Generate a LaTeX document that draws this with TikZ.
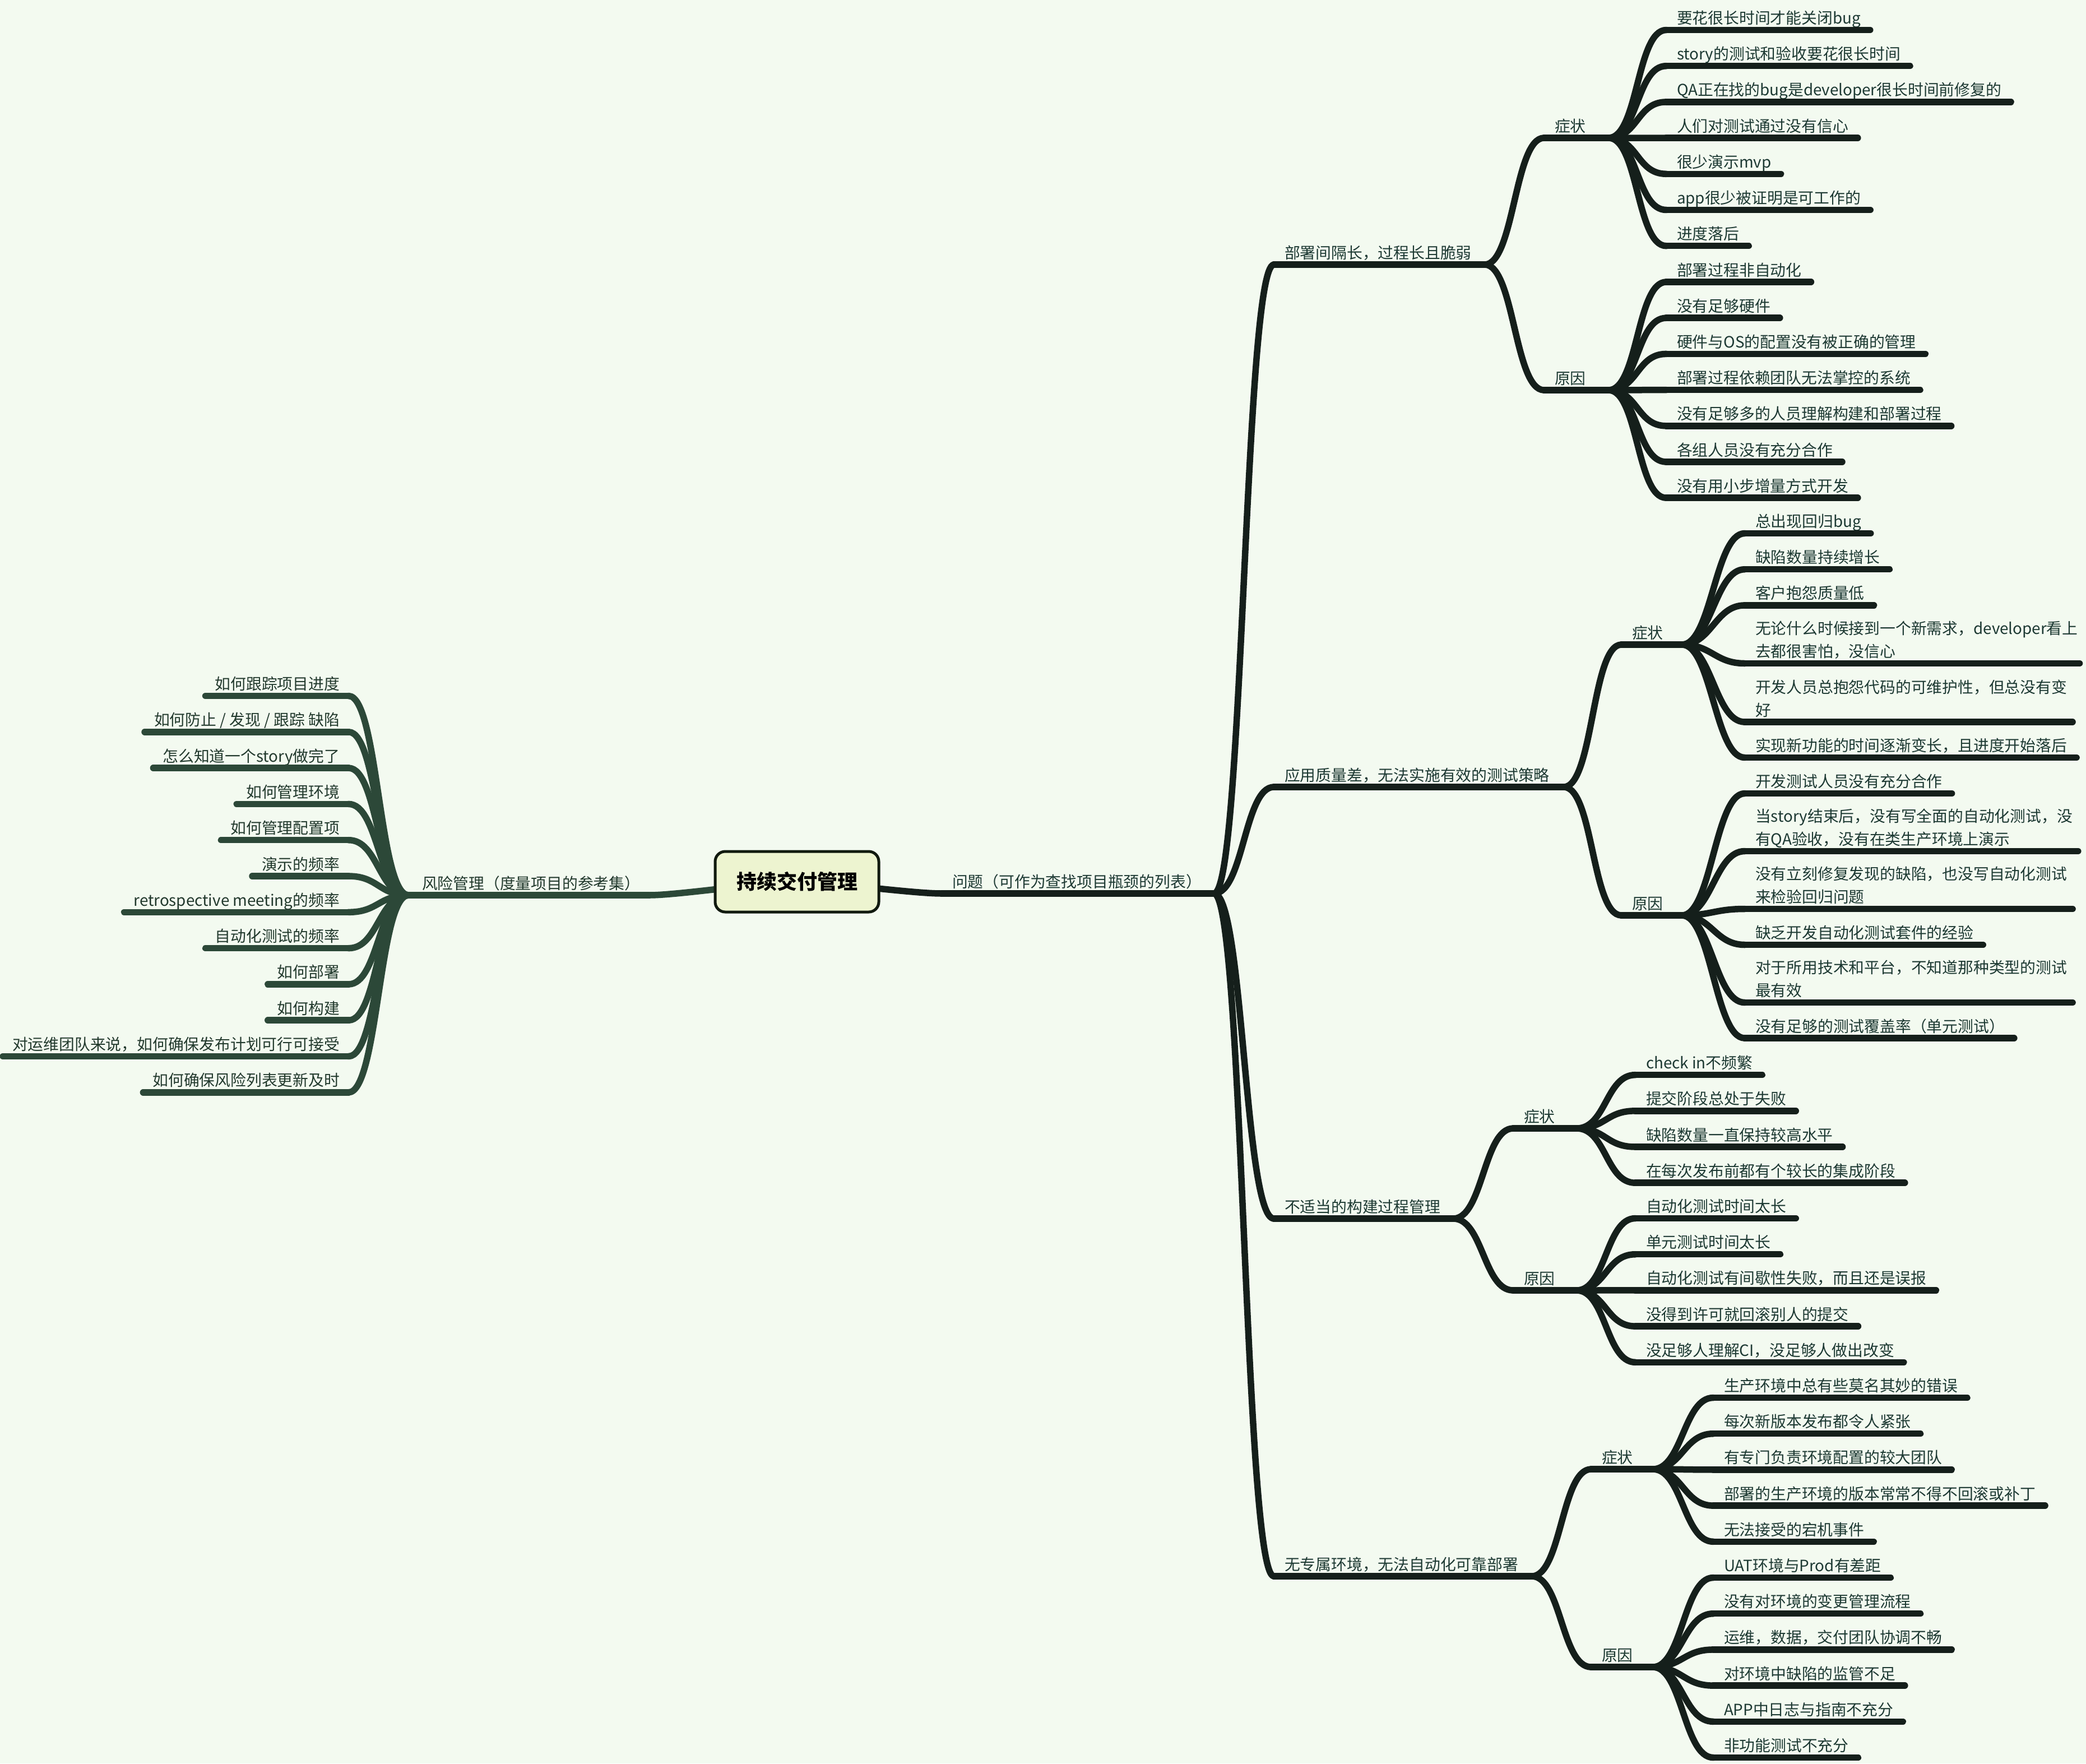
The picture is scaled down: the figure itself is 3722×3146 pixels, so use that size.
\documentclass[tikz,border=0pt]{standalone}
\usepackage{fontspec}
\setmainfont{Noto Sans CJK SC}
\usetikzlibrary{calc}
\definecolor{bgcol}{HTML}{F3FAF0}
\definecolor{boxfillcol}{HTML}{EDF4D0}
\definecolor{boxlinecol}{HTML}{111A0F}
\definecolor{linecolR}{HTML}{151F1B}
\definecolor{linecolL}{HTML}{2C4838}
\definecolor{textcolR}{HTML}{1D3933}
\definecolor{textcolL}{HTML}{22392D}
\pgfdeclarelayer{background}
\pgfsetlayers{background,main}
\tikzset{
  txtR/.style={inner sep=0pt, outer sep=0pt, text=textcolR, font=\fontsize{27.8}{41}\selectfont, align=left},
  txtL/.style={inner sep=0pt, outer sep=0pt, text=textcolL, font=\fontsize{27.8}{41}\selectfont, align=right},
  lnR/.style={draw=linecolR, line width=11.5pt, line cap=round, line join=round},
  lnL/.style={draw=linecolL, line width=11.5pt, line cap=round, line join=round},
  cR/.style={to path={.. controls ($(\tikztostart)+(53,0)$) and ($(\tikztotarget)+(-53,0)$) .. (\tikztotarget)}},
  cL/.style={to path={.. controls ($(\tikztostart)+(-53,0)$) and ($(\tikztotarget)+(53,0)$) .. (\tikztotarget)}},
  rootbox/.style={draw=boxlinecol, line width=5pt, fill=boxfillcol, rounded corners=18pt,
    minimum width=292pt, minimum height=108pt, inner sep=0pt,
    font=\fontsize{36}{40}\selectfont\bfseries, text=black},
}
% right leaf: [end pad]{name}{x start}{y}{text}
\newcommand\rleaf[5][17]{%
  \coordinate (#2-s) at (#3,#4);
  \node[txtR, anchor=base west] (#2) at ([xshift=19pt,yshift=11pt]#2-s) {#5};
  \coordinate (#2-e) at ($(#2.east |- #2-s)+(#1,0)$);
  \draw[lnR] (#2-s) -- (#2-e);
}
% right parent: {name}{x start}{y}{fork x}{text}
\newcommand\rpar[5]{%
  \coordinate (#1-s) at (#2,#3);
  \coordinate (#1-e) at (#4,#3);
  \node[txtR, anchor=base west] (#1) at ([xshift=19pt,yshift=11pt]#1-s) {#5};
  \draw[lnR] (#1-s) -- (#1-e);
}
% left leaf: {name}{x end}{y}{text}
\newcommand\lleaf[4]{%
  \coordinate (#1-e) at (#2,#3);
  \node[txtL, anchor=base east] (#1) at ([xshift=-16pt,yshift=11pt]#1-e) {#4};
  \coordinate (#1-s) at ($(#1.west |- #1-e)+(-17,0)$);
  \draw[lnL] (#1-s) -- (#1-e);
}
\begin{document}
\begin{tikzpicture}[x=1pt,y=-1pt]
\useasboundingbox (0,0) rectangle (3722,3146);
\begin{pgfonlayer}{background}
\fill[bgcol] (0,0) rectangle (3722,3146);
\end{pgfonlayer}

% root
\node[rootbox] (root) at (1422,1573) {持续交付管理};

% ---------- right main ----------
\rpar{q}{1680}{1594}{2166}{问题（可作为查找项目瓶颈的列表）}

% level 1
\rpar{A}{2273}{472}{2649}{部署间隔长，过程长且脆弱}
\rpar{B}{2273}{1404}{2790}{应用质量差，无法实施有效的测试策略}
\rpar{C}{2273}{2174}{2593}{不适当的构建过程管理}
\rpar{D}{2273}{2812}{2733}{无专属环境，无法自动化可靠部署}

% level 2
\rpar{As}{2755}{246}{2870}{症状}
\rpar{Ac}{2755}{696}{2870}{原因}
\rpar{Bs}{2893}{1150}{3001}{症状}
\rpar{Bc}{2893}{1633}{3001}{原因}
\rpar{Cs}{2700}{2013}{2813}{症状}
\rpar{Cc}{2700}{2302}{2813}{原因}
\rpar{Ds}{2839}{2621}{2949}{症状}
\rpar{Dc}{2839}{2974}{2949}{原因}

% A leaves
\rleaf{As1}{2973}{53.5}{要花很长时间才能关闭bug}
\rleaf{As2}{2973}{117.7}{story的测试和验收要花很长时间}
\rleaf{As3}{2973}{181.9}{QA正在找的bug是developer很长时间前修复的}
\rleaf{As4}{2973}{246.1}{人们对测试通过没有信心}
\rleaf{As5}{2973}{310.3}{很少演示mvp}
\rleaf{As6}{2973}{374.5}{app很少被证明是可工作的}
\rleaf{As7}{2973}{438.7}{进度落后}
\rleaf{Ac1}{2973}{503}{部署过程非自动化}
\rleaf{Ac2}{2973}{567.2}{没有足够硬件}
\rleaf{Ac3}{2973}{631.4}{硬件与OS的配置没有被正确的管理}
\rleaf{Ac4}{2973}{695.6}{部署过程依赖团队无法掌控的系统}
\rleaf{Ac5}{2973}{759.8}{没有足够多的人员理解构建和部署过程}
\rleaf{Ac6}{2973}{824}{各组人员没有充分合作}
\rleaf{Ac7}{2973}{888.2}{没有用小步增量方式开发}

% B leaves
\rleaf{Bs1}{3113}{951.5}{总出现回归bug}
\rleaf{Bs2}{3113}{1015.7}{缺陷数量持续增长}
\rleaf{Bs3}{3113}{1079.9}{客户抱怨质量低}
\rleaf[3]{Bs4}{3113}{1183.5}{无论什么时候接到一个新需求，developer看上\\去都很害怕，没信心}
\rleaf[10]{Bs5}{3113}{1288}{开发人员总抱怨代码的可维护性，但总没有变\\好}
\rleaf{Bs6}{3113}{1351.5}{实现新功能的时间逐渐变长，且进度开始落后}
\rleaf{Bc1}{3113}{1415.5}{开发测试人员没有充分合作}
\rleaf[10]{Bc2}{3113}{1518.5}{当story结束后，没有写全面的自动化测试，没\\有QA验收，没有在类生产环境上演示}
\rleaf[10]{Bc3}{3113}{1621.5}{没有立刻修复发现的缺陷，也没写自动化测试\\来检验回归问题}
\rleaf{Bc4}{3113}{1685.5}{缺乏开发自动化测试套件的经验}
\rleaf[10]{Bc5}{3113}{1788.5}{对于所用技术和平台，不知道那种类型的测试\\最有效}
\rleaf{Bc6}{3113}{1852}{没有足够的测试覆盖率（单元测试）}

% C leaves
\rleaf{Cs1}{2918}{1917.6}{check in不频繁}
\rleaf{Cs2}{2918}{1981.8}{提交阶段总处于失败}
\rleaf{Cs3}{2918}{2046}{缺陷数量一直保持较高水平}
\rleaf{Cs4}{2918}{2110.2}{在每次发布前都有个较长的集成阶段}
\rleaf{Cc1}{2918}{2173.5}{自动化测试时间太长}
\rleaf{Cc2}{2918}{2237.7}{单元测试时间太长}
\rleaf{Cc3}{2918}{2301.9}{自动化测试有间歇性失败，而且还是误报}
\rleaf{Cc4}{2918}{2366.1}{没得到许可就回滚别人的提交}
\rleaf{Cc5}{2918}{2430.3}{没足够人理解CI，没足够人做出改变}

% D leaves
\rleaf{Ds1}{3057}{2493.5}{生产环境中总有些莫名其妙的错误}
\rleaf{Ds2}{3057}{2557.7}{每次新版本发布都令人紧张}
\rleaf{Ds3}{3057}{2621.9}{有专门负责环境配置的较大团队}
\rleaf{Ds4}{3057}{2686.1}{部署的生产环境的版本常常不得不回滚或补丁}
\rleaf{Ds5}{3057}{2750.3}{无法接受的宕机事件}
\rleaf{Dc1}{3057}{2814.5}{UAT环境与Prod有差距}
\rleaf{Dc2}{3057}{2878.7}{没有对环境的变更管理流程}
\rleaf{Dc3}{3057}{2942.9}{运维，数据，交付团队协调不畅}
\rleaf{Dc4}{3057}{3007.1}{对环境中缺陷的监管不足}
\rleaf{Dc5}{3057}{3071.3}{APP中日志与指南不充分}
\rleaf{Dc6}{3057}{3135.5}{非功能测试不充分}

% right connectors
\foreach \c in {A,B,C,D} { \draw[lnR] (q-e) to[cR] (\c-s); }
\draw[lnR] (A-e) to[cR] (As-s);  \draw[lnR] (A-e) to[cR] (Ac-s);
\draw[lnR] (B-e) to[cR] (Bs-s);  \draw[lnR] (B-e) to[cR] (Bc-s);
\draw[lnR] (C-e) to[cR] (Cs-s);  \draw[lnR] (C-e) to[cR] (Cc-s);
\draw[lnR] (D-e) to[cR] (Ds-s);  \draw[lnR] (D-e) to[cR] (Dc-s);
\foreach \i in {1,...,7} { \draw[lnR] (As-e) to[cR] (As\i-s); \draw[lnR] (Ac-e) to[cR] (Ac\i-s); }
\foreach \i in {1,...,6} { \draw[lnR] (Bs-e) to[cR] (Bs\i-s); \draw[lnR] (Bc-e) to[cR] (Bc\i-s); }
\foreach \i in {1,...,4} { \draw[lnR] (Cs-e) to[cR] (Cs\i-s); }
\foreach \i in {1,...,5} { \draw[lnR] (Cc-e) to[cR] (Cc\i-s); \draw[lnR] (Ds-e) to[cR] (Ds\i-s); }
\foreach \i in {1,...,6} { \draw[lnR] (Dc-e) to[cR] (Dc\i-s); }

% ---------- left main ----------
\coordinate (risk-s) at (729,1597);
\node[txtL, anchor=base west] (risk) at ([xshift=24pt,yshift=11pt]risk-s) {风险管理（度量项目的参考集）};
\coordinate (risk-e) at ($(risk.east |- risk-s)+(16,0)$);
\draw[lnL] (risk-s) -- (risk-e);

\lleaf{L1}{622}{1241.5}{如何跟踪项目进度}
\lleaf{L2}{622}{1305.8}{如何防止 / 发现 / 跟踪 缺陷}
\lleaf{L3}{622}{1370.1}{怎么知道一个story做完了}
\lleaf{L4}{622}{1434.4}{如何管理环境}
\lleaf{L5}{622}{1498.7}{如何管理配置项}
\lleaf{L6}{622}{1563}{演示的频率}
\lleaf{L7}{622}{1627.3}{retrospective meeting的频率}
\lleaf{L8}{622}{1691.6}{自动化测试的频率}
\lleaf{L9}{622}{1755.9}{如何部署}
\lleaf{L10}{622}{1820.2}{如何构建}
\lleaf{L11}{622}{1884.5}{对运维团队来说，如何确保发布计划可行可接受}
\lleaf{L12}{622}{1948.8}{如何确保风险列表更新及时}
\foreach \i in {1,...,12} { \draw[lnL] (risk-s) to[cL] (L\i-e); }

% root connectors (under the box)
\begin{pgfonlayer}{background}
\draw[lnR] (root.center) to[cR] (q-s);
\draw[lnL] (root.center) to[cL] (risk-e);
\end{pgfonlayer}
\end{tikzpicture}
\end{document}
